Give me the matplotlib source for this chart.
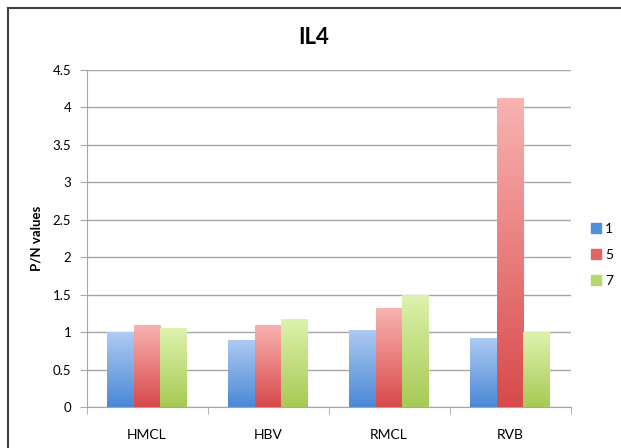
import matplotlib
matplotlib.use("Agg")
import matplotlib.pyplot as plt
import numpy as np
from matplotlib.patches import Rectangle
from matplotlib.colors import LinearSegmentedColormap

plt.rcParams['font.family'] = ['Lato', 'DejaVu Sans']

categories = ["HMCL", "HBV", "RMCL", "RVB"]
series_names = ["1", "5", "7"]
s1 = [1.00, 0.90, 1.03, 0.92]
s5 = [1.10, 1.10, 1.32, 4.13]
s7 = [1.05, 1.18, 1.50, 1.00]
yticks = [0, 0.5, 1, 1.5, 2, 2.5, 3, 3.5, 4, 4.5]

grads = [("#aecbf2", "#4a88d6"), ("#f9b4b2", "#d8494a"), ("#def2ad", "#a6ca54")]
legend_cols = ["#4f8fdc", "#e06462", "#b4d86a"]

fig = plt.figure(figsize=(6.21, 4.48), dpi=100)
ax = fig.add_axes([86.5/621, 41/448, 484/621, 337/448])

x = np.arange(len(categories))
w = 0.22
data = [s1, s5, s7]
handles = []
for i, (vals, (top, bot)) in enumerate(zip(data, grads)):
    offs = (i - 1) * w
    bars = ax.bar(x + offs, vals, width=w, color="none", edgecolor="none", zorder=2)
    cmap = LinearSegmentedColormap.from_list("g%d" % i, [bot, top])
    grad = np.linspace(0, 1, 256).reshape(-1, 1)
    for b in bars:
        bx, by = b.get_x(), b.get_y()
        bw, bh = b.get_width(), b.get_height()
        im = ax.imshow(grad, cmap=cmap, origin="lower", aspect="auto",
                       extent=[bx, bx + bw, by, by + bh], zorder=2)
        im.set_clip_path(b)
    handles.append(Rectangle((0, 0), 1, 1, color=legend_cols[i]))
ax.set_xlim(-0.5, len(categories) - 0.5)
ax.set_ylim(0, 4.5)

ax.set_yticks(yticks)
ax.set_yticklabels([("%g" % v) for v in yticks], fontsize=9.5)
ax.yaxis.grid(True, color="#a6a6a6", linewidth=1.0, zorder=0)
ax.set_axisbelow(True)
for s in ["top", "right"]:
    ax.spines[s].set_visible(False)
ax.spines["left"].set_color("#a6a6a6")
ax.spines["bottom"].set_color("#a6a6a6")
ax.tick_params(axis="y", length=5, color="#a6a6a6", pad=6)
ax.set_xticks(x)
ax.set_xticklabels(categories, fontsize=10)
ax.tick_params(axis="x", length=0, pad=16)
ax.set_xticks(np.arange(-0.5, len(categories) + 0.5, 1), minor=True)
ax.tick_params(axis="x", which="minor", length=5, color="#a6a6a6")

ax.set_ylabel("P/N values", fontsize=9.5, fontweight="bold", labelpad=7)
fig.text(314/621, 1 - 38/448, "IL4", fontsize=16, fontweight="bold", ha="center", va="center")

leg = fig.legend(handles, series_names, loc="center left", bbox_to_anchor=(591/621, 1 - 255/448),
                 frameon=False, fontsize=10, handlelength=0.7, handleheight=0.7,
                 handletextpad=0.3, labelspacing=1.0, borderpad=0, borderaxespad=0)

fig.patches.append(Rectangle((7.5/621, -0.1), 1.2, 1 - 8.5/448 + 0.1, transform=fig.transFigure,
                             fill=False, edgecolor="#404040", linewidth=1.5))

fig.savefig("out.png", dpi=100)
